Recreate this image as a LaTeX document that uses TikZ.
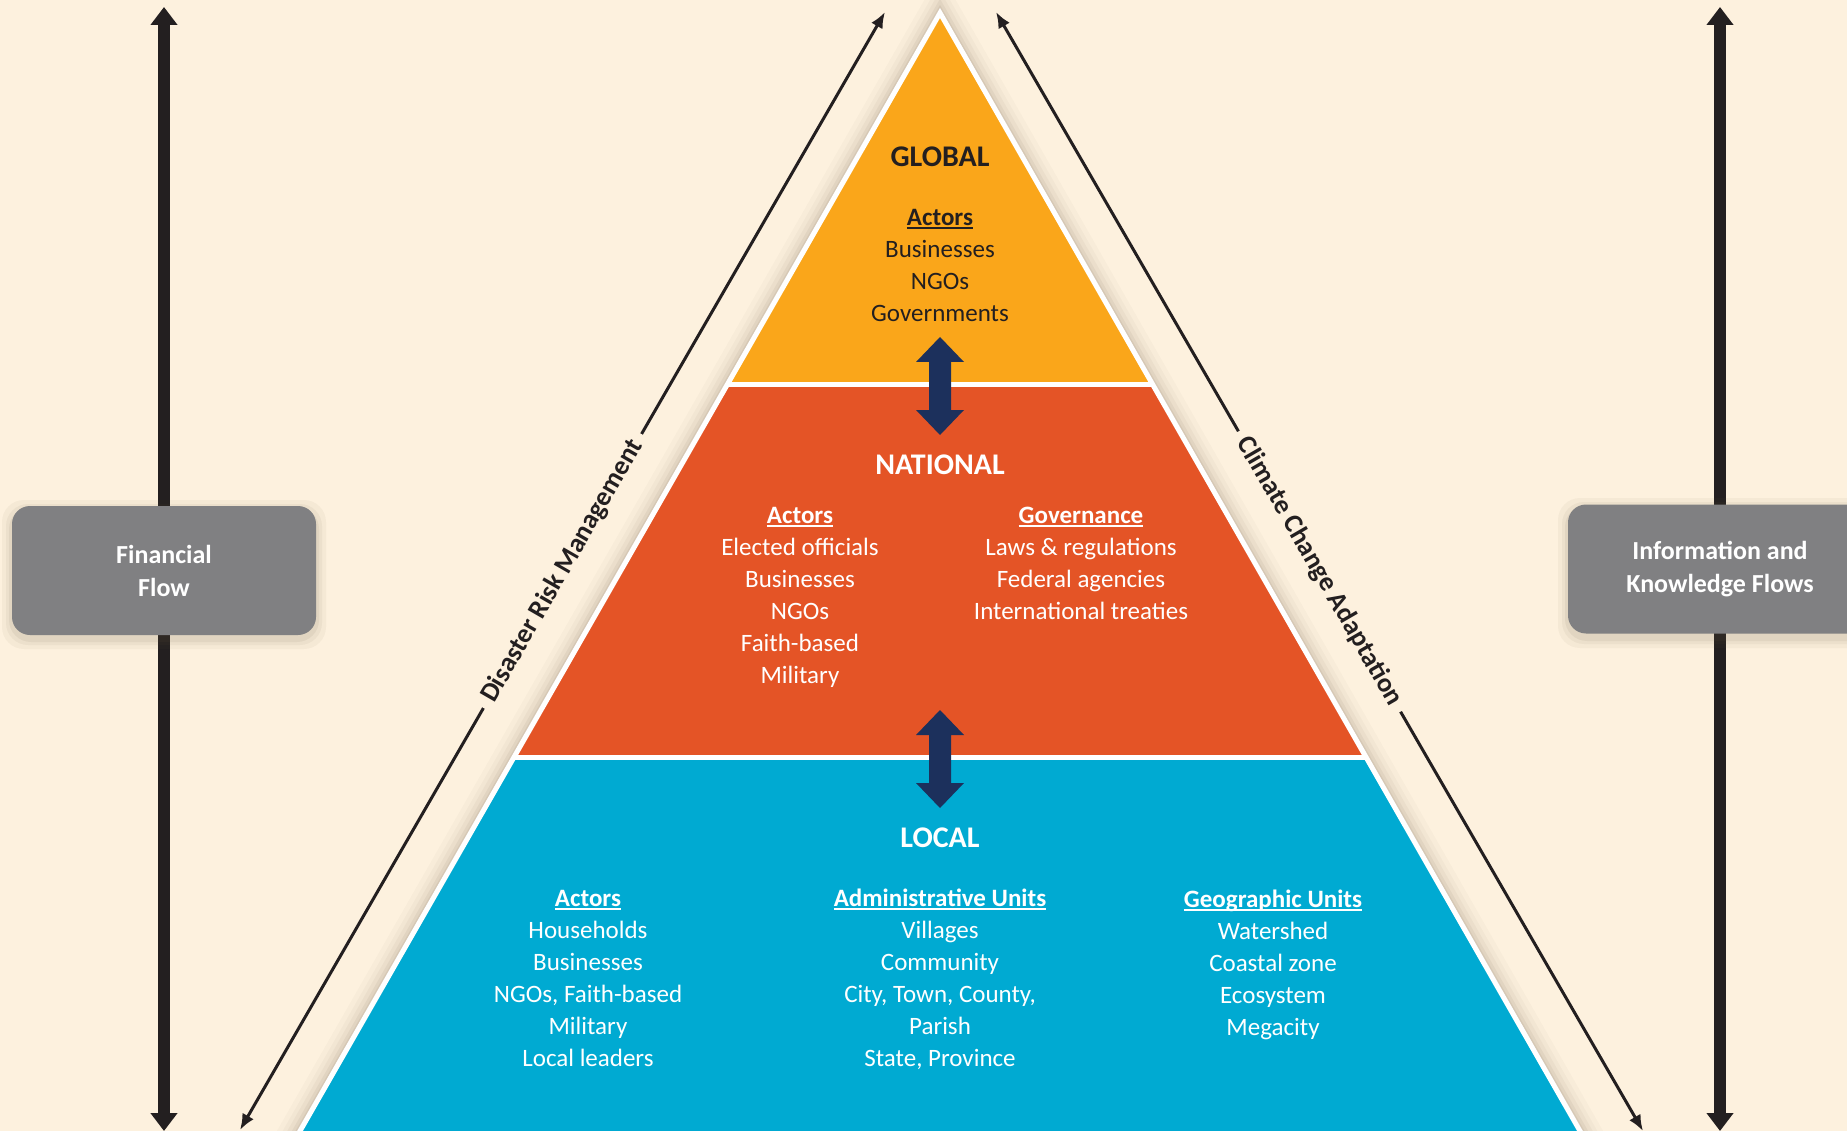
\documentclass[tikz,border=0pt]{standalone}
\usepackage{fontspec}
\setmainfont{Carlito}
\usetikzlibrary{arrows.meta}
\definecolor{bg}{HTML}{FDF1DE}
\definecolor{globalc}{HTML}{FAA61A}
\definecolor{nationalc}{HTML}{E45426}
\definecolor{localc}{HTML}{00AAD2}
\definecolor{boxgray}{HTML}{808082}
\definecolor{navy}{HTML}{1C305C}
\definecolor{ink}{HTML}{231F20}
\definecolor{shadowc}{HTML}{6B5A40}
\newcommand\hdrline[1]{\sbox0{#1}\rlap{\rule[-4pt]{\wd0}{1.8pt}}\usebox0}
\begin{document}
\begin{tikzpicture}[x=1pt,y=-1pt,
  levelhdr/.style={font=\fontsize{30}{34}\selectfont\bfseries, inner sep=0},
  body/.style={font=\fontsize{25}{32}\selectfont, align=center, inner sep=0},
  flowbox/.style={fill=boxgray, rounded corners=18, minimum width=304, minimum height=129,
    text=white, font=\fontsize{26}{33}\selectfont\bfseries, align=center},
  flowarrow/.style={draw=ink, line width=12, {Triangle[length=18,width=26]}-{Triangle[length=18,width=26]}},
  diagarrow/.style={draw=ink, line width=3, {Latex[length=16,width=13]}-{Latex[length=16,width=13]}},
  diaglabel/.style={sloped, fill=bg, text=ink, inner xsep=9, inner ysep=2,
    font=\fontsize{27}{30}\selectfont\bfseries},
  blockarrow/.pic={\fill[navy] (0,-49) -- (24,-24) -- (11,-24) -- (11,24) -- (24,24) -- (0,49)
     -- (-24,24) -- (-11,24) -- (-11,-24) -- (-24,-24) -- cycle;}
]
\useasboundingbox (0,0) rectangle (1847,1131);
\clip (0,0) rectangle (1847,1131);
\fill[bg] (0,0) rectangle (1847,1131);

% coordinates
\coordinate (apex) at (940,13);
\coordinate (g1) at (727,385);
\coordinate (g2) at (1153,385);
\coordinate (n1) at (514,757);
\coordinate (n2) at (1366,757);
\coordinate (b1) at (283.4,1160);
\coordinate (b2) at (1596.6,1160);

% diagonal arrows
\coordinate (dlb) at (240,1130);
\coordinate (dlt) at (885,12);
\coordinate (drt) at (996,12);
\coordinate (drb) at (1643,1131);
\draw[diagarrow] (dlb) -- (dlt) node[midway, diaglabel] (drm) {Disaster Risk Management};
\draw[diagarrow] (drt) -- (drb) node[midway, diaglabel] (cca) {Climate Change Adaptation};

% triangle shadow
\foreach \w/\o in {40/0.03, 30/0.04, 22/0.05, 14/0.07, 8/0.09}
  \draw[shadowc, line width=\w, opacity=\o, line join=miter] (apex) -- (b1) -- (b2) -- cycle;

% levels
\fill[globalc] (apex) -- (g1) -- (g2) -- cycle;
\fill[nationalc] (g1) -- (n1) -- (n2) -- (g2) -- cycle;
\fill[localc] (n1) -- (b1) -- (b2) -- (n2) -- cycle;
\draw[white, line width=5, line join=miter] (apex) -- (b1) -- (b2) -- cycle;
\draw[white, line width=5] (g1) -- (g2);
\draw[white, line width=5] (n1) -- (n2);

% block arrows
\pic at (940,386) {blockarrow};
\pic at (940,759) {blockarrow};

% level headers
\node[levelhdr, text=ink] (global) at (940,157) {GLOBAL};
\node[levelhdr, text=white] (national) at (940,465) {NATIONAL};
\node[levelhdr, text=white] (local) at (940,838) {LOCAL};

% global
\node[body, text=ink] (gact) at (940,265) {\hdrline{\bfseries Actors}\\Businesses\\NGOs\\Governments};
% national
\node[body, text=white] (nact) at (800,597) {\hdrline{\bfseries Actors}\\Elected officials\\Businesses\\NGOs\\Faith-based\\Military};
\node[body, text=white] (ngov) at (1081,563) {\hdrline{\bfseries Governance}\\Laws \& regulations\\Federal agencies\\International treaties};
% local
\node[body, text=white] (lact) at (588,978) {\hdrline{\bfseries Actors}\\Households\\Businesses\\NGOs, Faith-based\\Military\\Local leaders};
\node[body, text=white] (ladm) at (940,979) {\hdrline{\bfseries Administrative Units}\\Villages\\Community\\City, Town, County,\\Parish\\State, Province};
\node[body, text=white] (lgeo) at (1273,964.5) {\hdrline{\bfseries Geographic Units}\\Watershed\\Coastal zone\\Ecosystem\\Megacity};

% flow arrows
\coordinate (fb) at (164,1131);
\coordinate (ft) at (164,7);
\coordinate (ib) at (1720,1131);
\coordinate (it) at (1720,7);
\draw[flowarrow] (fb) -- (ft);
\draw[flowarrow] (ib) -- (it);

% flow boxes with soft shadow
\foreach \s/\o in {10/0.05, 6/0.06, 3/0.08}{
  \fill[shadowc, opacity=\o, rounded corners=22] (12-\s,507-\s+3) rectangle (316+\s,636+\s+3);
  \fill[shadowc, opacity=\o, rounded corners=22] (1568-\s,505-\s+3) rectangle (1872+\s,635+\s+3);
}
\node[flowbox] (fin) at (164,570.5) {Financial\\Flow};
\node[flowbox] (info) at (1720,569) {Information and\\Knowledge Flows};
\end{tikzpicture}
\end{document}
